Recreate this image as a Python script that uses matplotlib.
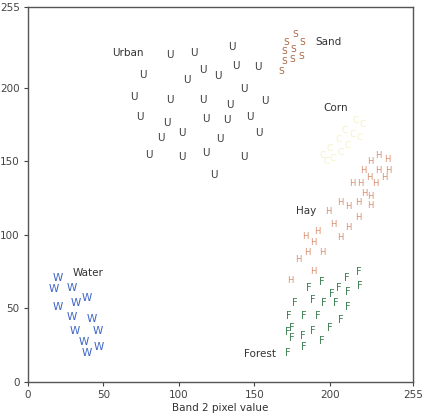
import matplotlib.pyplot as plt

# 各类别在 Band 2 / Band 3 特征空间里的样本点
urban_x = [94, 110, 135, 76, 116, 126, 138, 152, 105, 143, 70, 94, 116, 134, 157,
           74, 92, 118, 132, 147, 88, 102, 127, 153, 80, 102, 118, 143, 123]
urban_y = [222, 224, 228, 209, 212, 208, 215, 214, 205, 199, 194, 192, 192, 188, 191,
           180, 176, 179, 178, 180, 166, 169, 165, 169, 154, 153, 156, 153, 141]

sand_x = [171, 177, 182, 170, 176, 181, 170, 175, 168]
sand_y = [231, 236, 231, 225, 226, 221, 218, 219, 211]

corn_x = [217, 222, 210, 215, 206, 212, 200, 207, 195, 202, 220, 198]
corn_y = [178, 175, 171, 168, 165, 161, 159, 156, 154, 152, 166, 150]

hay_x = [232, 238, 227, 222, 232, 239, 226, 236, 215, 220, 230, 223, 227, 219, 227,
         207, 212, 199, 219, 202, 212, 192, 184, 207, 189, 185, 195, 179, 189, 174]
hay_y = [154, 151, 150, 144, 144, 144, 139, 139, 135, 135, 135, 128, 126, 122, 120,
         122, 119, 116, 112, 107, 105, 102, 99, 98, 95, 88, 88, 83, 75, 69]

forest_x = [219, 211, 220, 195, 186, 206, 201, 212, 177, 189, 196, 204, 212,
            173, 183, 192, 207, 200, 175, 189, 172, 182, 175, 195, 183, 172]
forest_y = [75, 71, 65, 68, 64, 64, 60, 61, 54, 56, 54, 54, 51,
            45, 45, 45, 42, 37, 37, 35, 34, 31, 30, 28, 24, 20]

water_x = [20, 17, 29, 20, 32, 39, 29, 42, 31, 46, 37, 39, 47]
water_y = [71, 63, 64, 51, 54, 57, 44, 43, 35, 35, 27, 20, 24]

# 类别名称和标注位置
class_names = ['Urban', 'Sand', 'Corn', 'Hay', 'Forest', 'Water']
label_x = [66, 199, 204, 184, 154, 40]
label_y = [224, 231, 186, 116, 19, 74]

ticks = [0, 50, 100, 150, 200, 255]

# (字母, x, y, 颜色, 字号)
groups = [
    ('U', urban_x, urban_y, '#3c3c3c', 7.5),
    ('S', sand_x, sand_y, '#a8633f', 6.5),
    ('C', corn_x, corn_y, '#f5f2c4', 6.5),
    ('H', hay_x, hay_y, '#d98b6c', 6),
    ('F', forest_x, forest_y, '#3f7d52', 7),
    ('W', water_x, water_y, '#3a62c6', 7.5),
]

fig = plt.figure(figsize=(4.47, 4.20), dpi=100)
ax = fig.add_axes([0.0626, 0.0905, 0.861, 0.893])

for letter, xs, ys, color, size in groups:
    for x, y in zip(xs, ys):
        ax.text(x, y, letter, color=color, fontsize=size, ha='center', va='center')

for name, x, y in zip(class_names, label_x, label_y):
    ax.text(x, y, name, color='#333333', fontsize=7.5, ha='center', va='center')

ax.set_xlim(0, 255)
ax.set_ylim(0, 255)
ax.set_xticks(ticks)
ax.set_yticks(ticks)
ax.tick_params(direction='out', length=3, width=0.8, pad=3,
               labelsize=7.5, colors='#444444')
for s in ax.spines.values():
    s.set_color('#555555')
    s.set_linewidth(1.0)
ax.set_xlabel('Band 2 pixel value', fontsize=7.5, color='#333333', labelpad=2)

plt.savefig('out.png', dpi=100)
plt.close()
